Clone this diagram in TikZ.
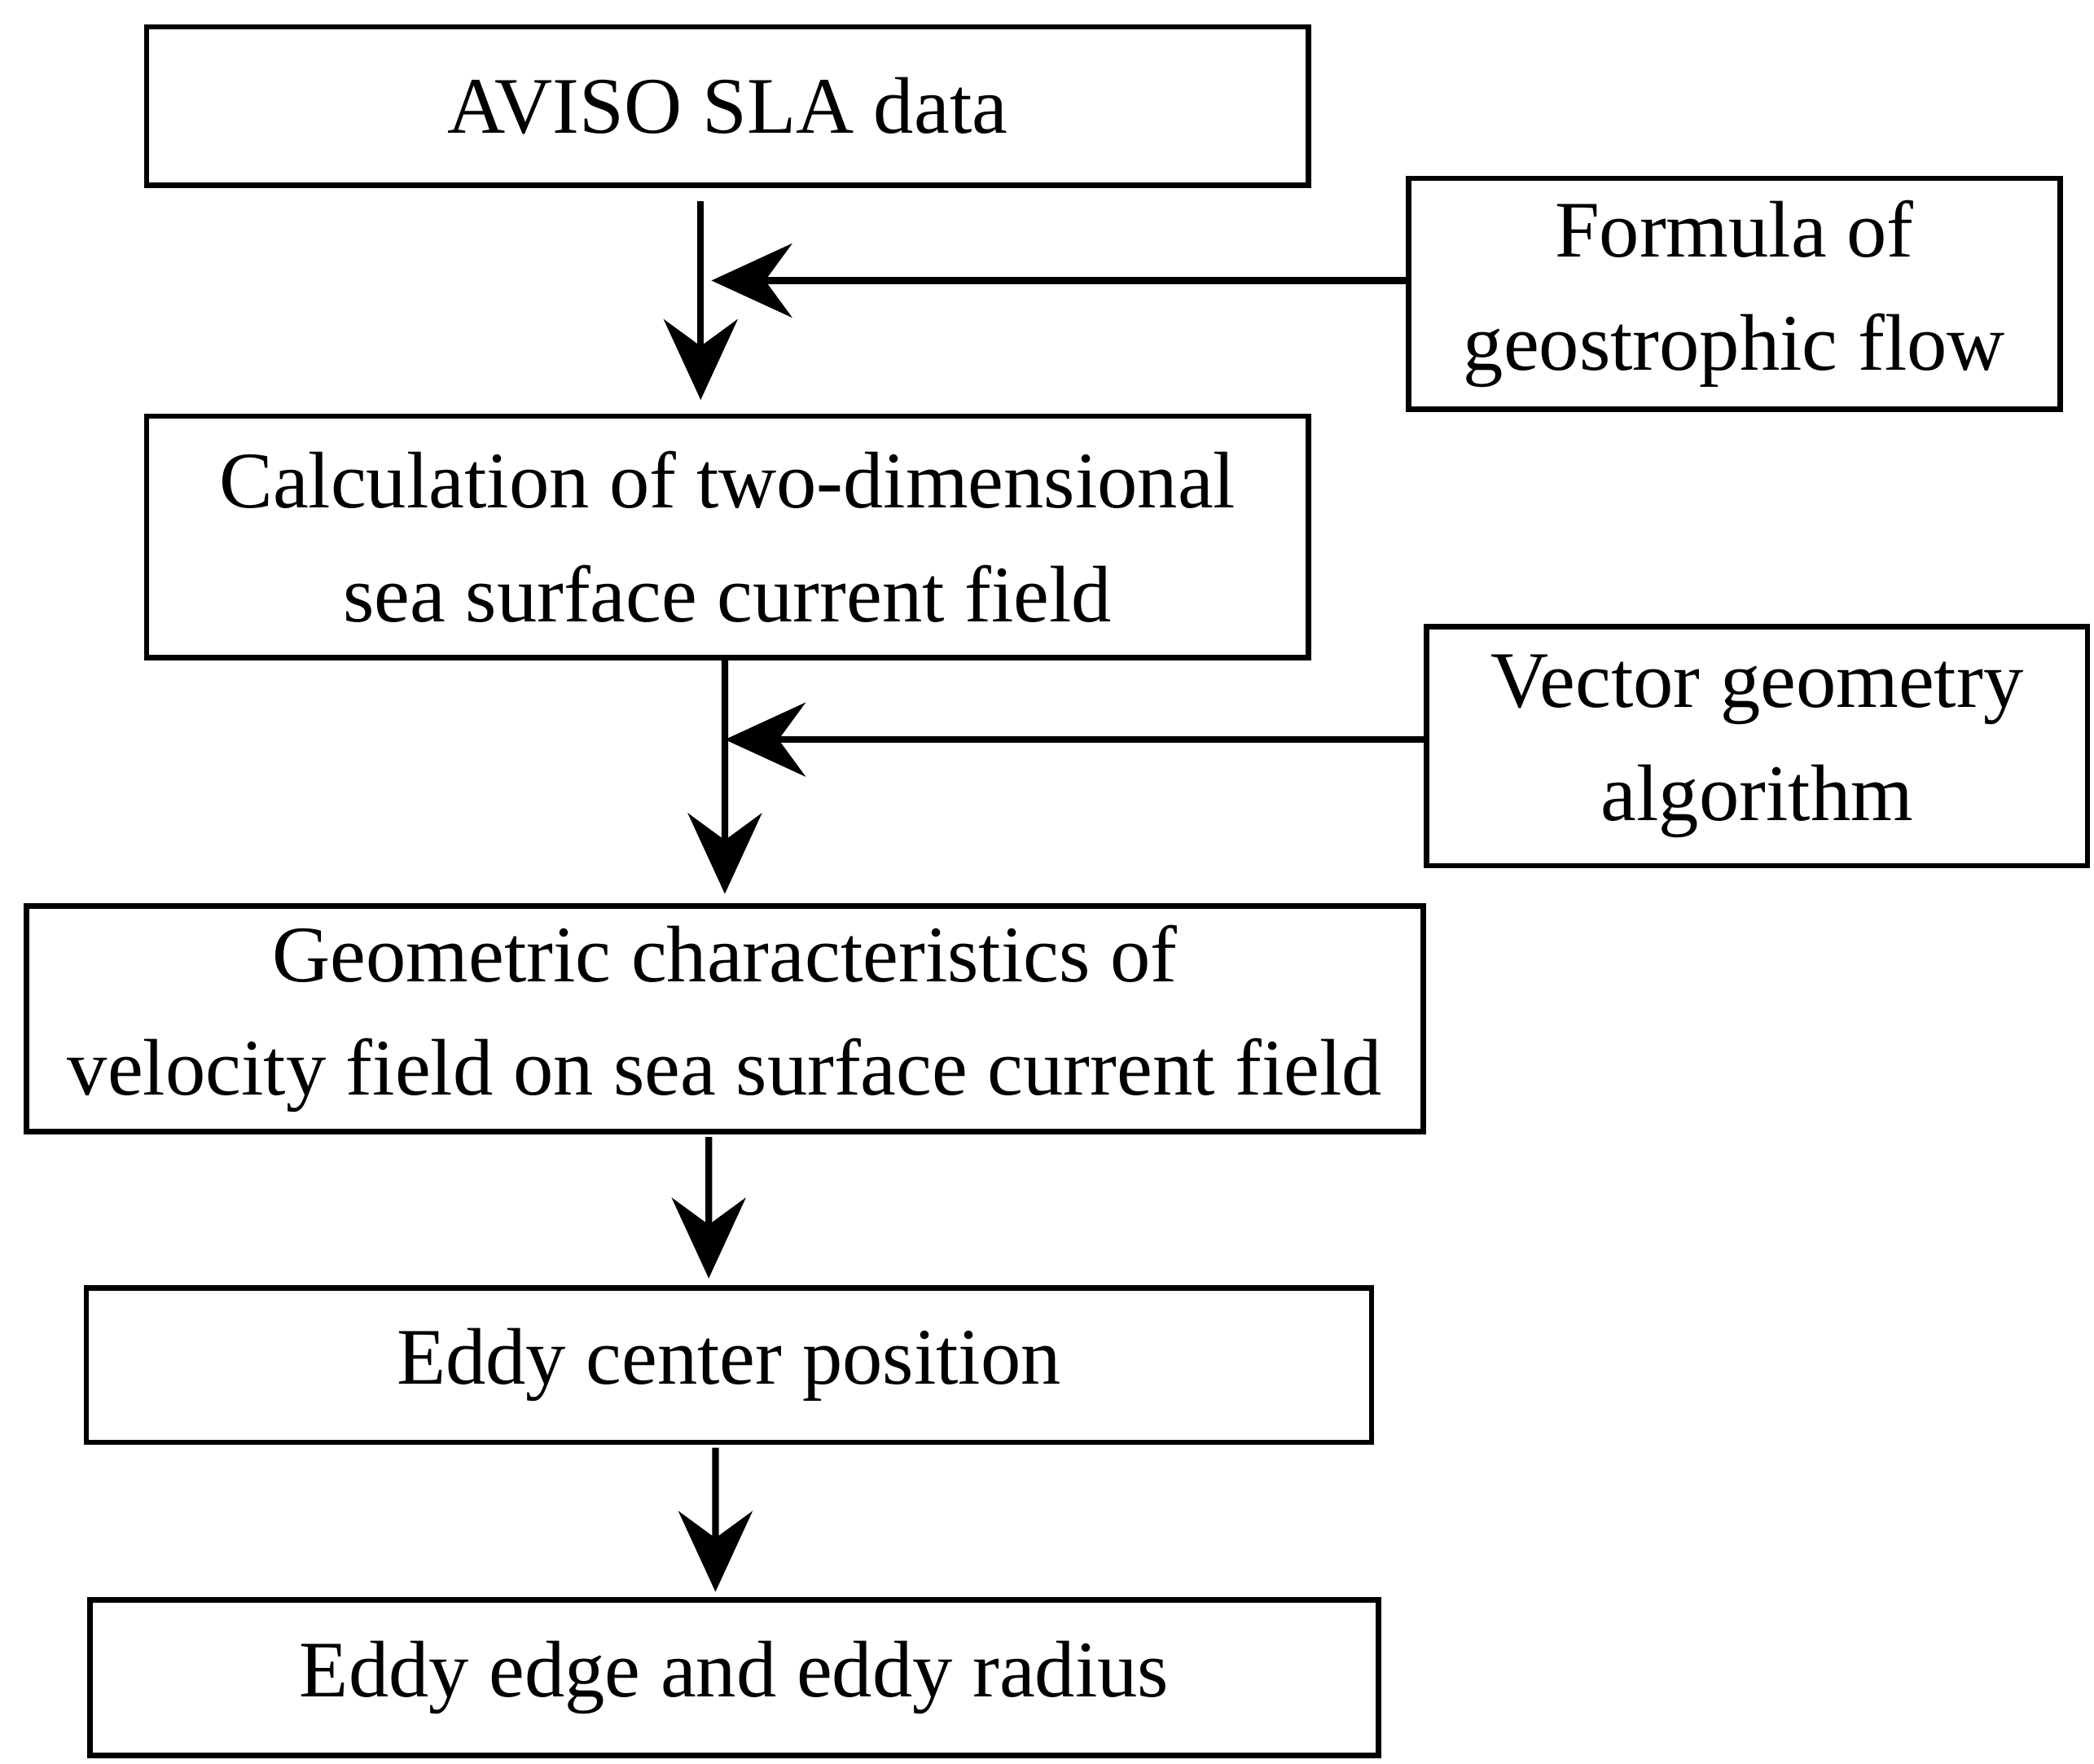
\documentclass[tikz,border=0pt]{standalone}
\usepackage{fontspec}
\setmainfont{Liberation Serif}
\usetikzlibrary{arrows.meta}

\tikzset{
  box/.style={draw, line width=0.04cm, align=center, inner sep=0pt,
    font=\fontsize{17}{24}\selectfont},
  flow/.style={line width=0.05cm, -{Stealth[length=0.6cm,width=0.55cm,inset=0.2cm]}}
}

\begin{document}
\begin{tikzpicture}[x=0.01cm,y=0.01cm]
  \useasboundingbox (0,0) rectangle (1560,-1314);
  % boxes of the main column
  \node[box, minimum width=8.65cm, minimum height=1.18cm] (aviso) at (542,-79) {AVISO SLA data};
  \node[box, minimum width=8.65cm, minimum height=1.80cm] (calc) at (542,-400) {Calculation of two-dimensional\\sea surface current field};
  \node[box, minimum width=10.40cm, minimum height=1.68cm] (geom) at (540,-759) {Geometric characteristics of\\velocity field on sea surface current field};
  \node[box, minimum width=9.57cm, minimum height=1.15cm] (center) at (543,-1017) {Eddy center position};
  \node[box, minimum width=9.59cm, minimum height=1.16cm] (edge) at (547,-1250) {Eddy edge and eddy radius};
  % side boxes
  \node[box, minimum width=4.85cm, minimum height=1.72cm] (formula) at (1292,-219) {Formula of\\geostrophic flow};
  \node[box, minimum width=4.92cm, minimum height=1.78cm] (vector) at (1309,-556) {Vector geometry\\algorithm};

  % joints on the vertical lines
  \coordinate (j1) at (530,-209);
  \coordinate (j2) at (540,-551);

  \draw[flow] ([xshift=-0.20cm,yshift=-0.10cm]aviso.south) -- ([xshift=-0.20cm,yshift=0.10cm]calc.north);
  \draw[flow] (formula.west |- j1) -- (j1);
  \draw[flow] ([xshift=-0.02cm]calc.south) -- ([xshift=0cm,yshift=0.07cm]geom.north);
  \draw[flow] (vector.west |- j2) -- (j2);
  \draw[flow] ([xshift=-0.12cm,yshift=-0.02cm]geom.south) -- ([xshift=-0.15cm,yshift=0.05cm]center.north);
  \draw[flow] ([xshift=-0.10cm,yshift=-0.02cm]center.south) -- ([xshift=-0.14cm,yshift=0.04cm]edge.north);
\end{tikzpicture}
\end{document}
